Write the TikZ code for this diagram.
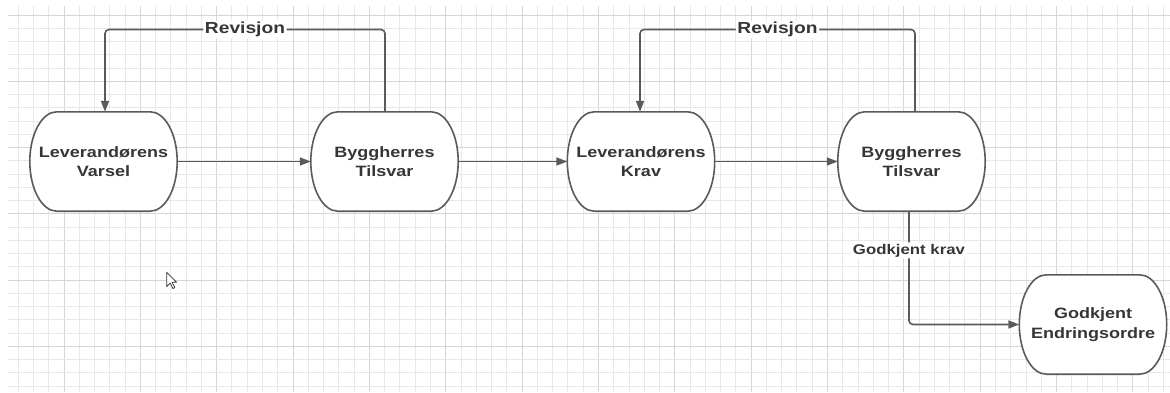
\documentclass[tikz,border=0pt]{standalone}
\usepackage{fontspec}
\usetikzlibrary{arrows.meta}
\newfontfamily\lbf{Liberation Sans}[FakeStretch=1.2]
\definecolor{gridminor}{HTML}{E8E8E8}
\definecolor{gridmajor}{HTML}{D6D6D6}
\definecolor{edge}{HTML}{5A5A5A}
\definecolor{txt}{HTML}{363636}
\pgfdeclarelayer{bg}
\pgfsetlayers{bg,main}
\begin{document}
\begin{tikzpicture}[x=1pt,y=-1pt,
  proc/.style={rectangle, draw=none, minimum width=147pt, minimum height=99pt, inner sep=0pt, align=center, text=txt, font=\lbf\bfseries\fontsize{15}{19.5}\selectfont},
  conn/.style={draw=edge, line width=1.6pt, -{Triangle[length=11pt,width=8pt]}, rounded corners=4pt},
  lbl/.style={fill=white, inner sep=1.5pt, text=txt, font=\lbf\bfseries\fontsize{16}{19}\selectfont},
  lblsmall/.style={fill=white, inner sep=1.5pt, text=txt, font=\lbf\bfseries\fontsize{14}{17}\selectfont},
  outline/.style={draw=edge, line width=1.6pt, fill=white, line join=round},
  gminor/.style={draw=gridminor, line width=1pt},
  gmajor/.style={draw=gridmajor, line width=1pt}]
\useasboundingbox (0,0) rectangle (1170,392);

% nodes
\node[proc] (a) at (103.5,161.5) {Leverandørens\\Varsel};
\node[proc] (b) at (384.5,161.5) {Byggherres\\Tilsvar};
\node[proc] (c) at (641,161.5) {Leverandørens\\Krav};
\node[proc] (d) at (911.5,161.5) {Byggherres\\Tilsvar};
\node[proc] (e) at (1093,324.5) {Godkjent\\Endringsordre};
\coordinate (top) at (0,29.5);

\begin{pgfonlayer}{bg}
  \fill[white] (0,0) rectangle (1170,392);
  % grid
  \foreach \k in {0,...,75} {
    \pgfmathsetmacro{\gx}{18.2+15.27*\k}
    \pgfmathtruncatemacro{\m}{mod(\k,5)}
    \ifnum\m=3
      \draw[gmajor] (\gx,6) -- (\gx,392);
    \else
      \draw[gminor] (\gx,6) -- (\gx,392);
    \fi
  }
  \foreach \k in {0,...,28} {
    \pgfmathsetmacro{\gy}{15+13.25*\k}
    \pgfmathtruncatemacro{\m}{mod(\k,5)}
    \ifnum\m=0
      \draw[gmajor] (8,\gy) -- (1170,\gy);
    \else
      \draw[gminor] (8,\gy) -- (1170,\gy);
    \fi
  }
  % node outlines (terminator shape)
  \foreach \n in {a,b,c,d,e} {
    \draw[outline] ([xshift=27pt]\n.north west) -- ([xshift=-27pt]\n.north east)
      .. controls ([xshift=-12.09pt]\n.north east) and ([yshift=27.34pt]\n.east) .. (\n.east)
      .. controls ([yshift=-27.34pt]\n.east) and ([xshift=-12.09pt]\n.south east) .. ([xshift=-27pt]\n.south east)
      -- ([xshift=27pt]\n.south west)
      .. controls ([xshift=12.09pt]\n.south west) and ([yshift=-27.34pt]\n.west) .. (\n.west)
      .. controls ([yshift=27.34pt]\n.west) and ([xshift=12.09pt]\n.north west) .. ([xshift=27pt]\n.north west)
      -- cycle;
  }
  % mouse cursor
  \draw[draw=txt, line width=0.8pt, fill=white, line join=round]
    (166.7,272.3) -- (166.7,286.5) -- (170.2,283.2) -- (172.9,288.5) -- (174.8,287.6)
    -- (172.1,282.3) -- (176.6,282.3) -- cycle;
\end{pgfonlayer}

% connectors
\draw[conn] (a.east) -- (b.west);
\draw[conn] (b.east) -- (c.west);
\draw[conn] (c.east) -- (d.west);
\draw[conn] ([xshift=0.5pt]b.north) -- ([xshift=0.5pt]b.north |- top)
  -| node[pos=0.25, lbl] {Revisjon} ([xshift=1.5pt]a.north);
\draw[conn] ([xshift=3.5pt]d.north) -- ([xshift=3.5pt]d.north |- top)
  -| node[pos=0.25, lbl] {Revisjon} ([xshift=-1pt]c.north);
\draw[conn] ([xshift=-2.5pt]d.south) |- node[pos=0.173, lblsmall] {Godkjent krav} (e.west);
\end{tikzpicture}
\end{document}
